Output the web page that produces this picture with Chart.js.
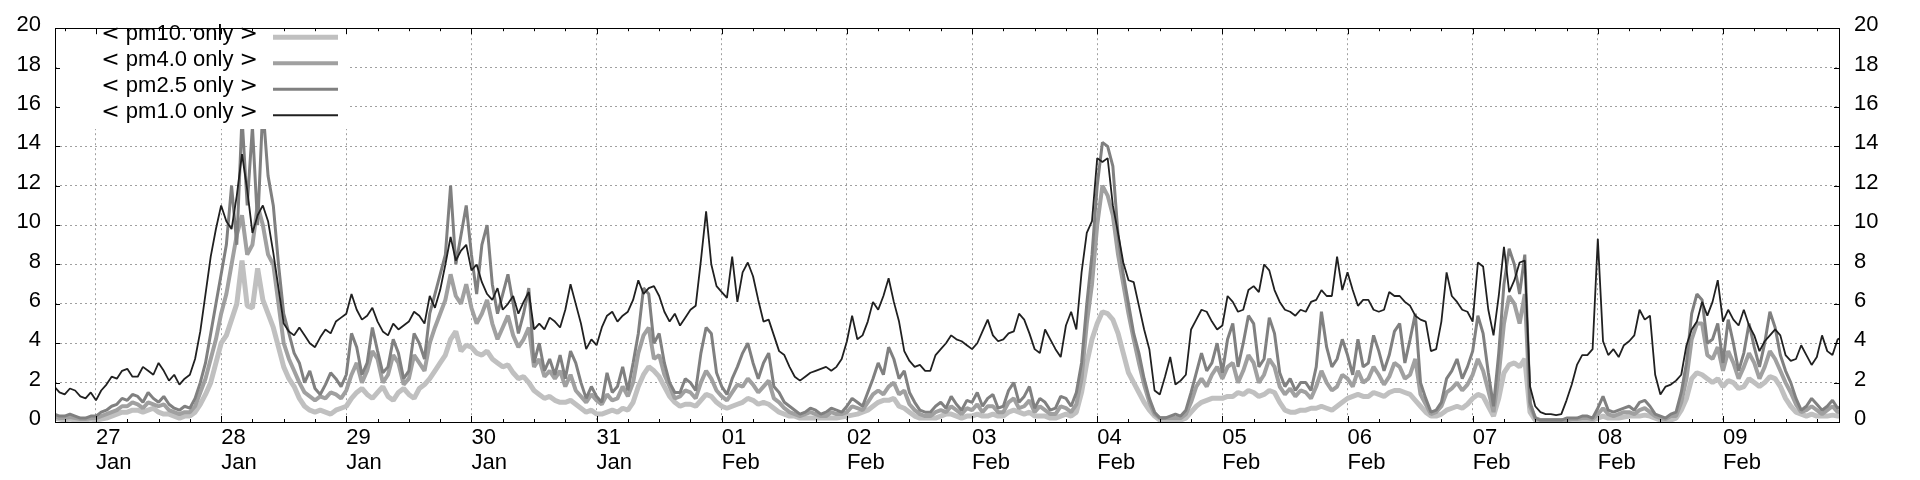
<!DOCTYPE html>
<html>
<head>
<meta charset="utf-8">
<script src="https://cdn.jsdelivr.net/npm/chart.js@4.4.1/dist/chart.umd.min.js"></script>
<style>
  html, body { margin: 0; padding: 0; background: #fff; }
  #wrap { width: 1920px; height: 480px; }
</style>
</head>
<body>
<div id="wrap"><canvas id="chart" width="1920" height="480"></canvas></div>
<script>
// hours since 27 Jan 00:00, one row per day
const hours = [
  -8, -7, -6, -5, -4, -3, -2, -1,
  0, 1, 2, 3, 4, 5, 6, 7, 8, 9, 10, 11, 12, 13, 14, 15, 16, 17, 18, 19, 20, 21, 22, 23,
  24, 25, 26, 27, 28, 29, 30, 31, 32, 33, 34, 35, 36, 37, 38, 39, 40, 41, 42, 43, 44, 45, 46, 47,
  48, 49, 50, 51, 52, 53, 54, 55, 56, 57, 58, 59, 60, 61, 62, 63, 64, 65, 66, 67, 68, 69, 70, 71,
  72, 73, 74, 75, 76, 77, 78, 79, 80, 81, 82, 83, 84, 85, 86, 87, 88, 89, 90, 91, 92, 93, 94, 95,
  96, 97, 98, 99, 100, 101, 102, 103, 104, 105, 106, 107, 108, 109, 110, 111, 112, 113, 114, 115, 116, 117, 118, 119,
  120, 121, 122, 123, 124, 125, 126, 127, 128, 129, 130, 131, 132, 133, 134, 135, 136, 137, 138, 139, 140, 141, 142, 143,
  144, 145, 146, 147, 148, 149, 150, 151, 152, 153, 154, 155, 156, 157, 158, 159, 160, 161, 162, 163, 164, 165, 166, 167,
  168, 169, 170, 171, 172, 173, 174, 175, 176, 177, 178, 179, 180, 181, 182, 183, 184, 185, 186, 187, 188, 189, 190, 191,
  192, 193, 194, 195, 196, 197, 198, 199, 200, 201, 202, 203, 204, 205, 206, 207, 208, 209, 210, 211, 212, 213, 214, 215,
  216, 217, 218, 219, 220, 221, 222, 223, 224, 225, 226, 227, 228, 229, 230, 231, 232, 233, 234, 235, 236, 237, 238, 239,
  240, 241, 242, 243, 244, 245, 246, 247, 248, 249, 250, 251, 252, 253, 254, 255, 256, 257, 258, 259, 260, 261, 262, 263,
  264, 265, 266, 267, 268, 269, 270, 271, 272, 273, 274, 275, 276, 277, 278, 279, 280, 281, 282, 283, 284, 285, 286, 287,
  288, 289, 290, 291, 292, 293, 294, 295, 296, 297, 298, 299, 300, 301, 302, 303, 304, 305, 306, 307, 308, 309, 310, 311,
  312, 313, 314, 315, 316, 317, 318, 319, 320, 321, 322, 323, 324, 325, 326, 327, 328, 329, 330, 331, 332, 333, 334, 335
];

const pm10only = [
  0.2, 0.15, 0.1, 0.15, 0.1, 0.1, 0.1, 0.15,
  0.1, 0.15, 0.2, 0.3, 0.4, 0.5, 0.5, 0.6, 0.6, 0.5, 0.6, 0.7, 0.5, 0.4, 0.4, 0.3, 0.2, 0.3, 0.3, 0.5, 0.9, 1.4, 2.0, 3.0,
  4.0, 4.4, 5.2, 6.0, 8.2, 5.9, 5.8, 7.8, 6.2, 5.5, 4.8, 3.8, 2.8, 2.2, 1.8, 1.2, 0.8, 0.6, 0.5, 0.6, 0.5, 0.4, 0.6, 0.7,
  0.8, 1.2, 1.5, 1.7, 1.4, 1.2, 1.5, 1.8, 1.3, 1.1, 1.5, 1.7, 1.4, 1.2, 1.7, 1.9, 2.2, 2.6, 3.0, 3.4, 4.2, 4.6, 3.6, 3.9,
  3.8, 3.5, 3.4, 3.6, 3.2, 3.0, 2.8, 2.9, 2.5, 2.2, 2.3, 2.0, 1.6, 1.4, 1.2, 1.3, 1.1, 1.0, 1.0, 1.1, 0.9, 0.7, 0.5, 0.6,
  0.4, 0.4, 0.5, 0.6, 0.5, 0.7, 0.6, 1.0, 1.8, 2.4, 2.8, 2.6, 2.3, 1.8, 1.3, 1.0, 0.8, 0.9, 0.9, 0.8, 1.1, 1.4, 1.3, 1.0,
  0.8, 0.7, 0.8, 0.9, 1.0, 1.2, 1.1, 0.9, 1.0, 0.9, 0.7, 0.5, 0.4, 0.3, 0.3, 0.2, 0.2, 0.2, 0.2, 0.2, 0.2, 0.2, 0.2, 0.25,
  0.3, 0.35, 0.4, 0.5, 0.6, 0.8, 1.0, 1.1, 1.1, 1.2, 0.8, 0.7, 0.5, 0.3, 0.2, 0.2, 0.2, 0.2, 0.3, 0.4, 0.4, 0.3, 0.2, 0.3,
  0.3, 0.4, 0.3, 0.3, 0.4, 0.3, 0.3, 0.5, 0.6, 0.5, 0.4, 0.5, 0.3, 0.3, 0.3, 0.2, 0.2, 0.3, 0.4, 0.3, 0.5, 1.5, 3.0, 4.2,
  5.0, 5.6, 5.5, 5.2, 4.5, 3.5, 2.5, 2.0, 1.5, 1.0, 0.6, 0.3, 0.1, 0.1, 0.1, 0.1, 0.1, 0.2, 0.5, 0.8, 1.0, 1.1, 1.2, 1.2,
  1.2, 1.3, 1.3, 1.5, 1.4, 1.6, 1.5, 1.3, 1.4, 1.6, 1.5, 1.0, 0.6, 0.5, 0.5, 0.6, 0.6, 0.7, 0.7, 0.8, 0.7, 0.6, 0.8, 1.0,
  1.2, 1.3, 1.4, 1.3, 1.3, 1.5, 1.4, 1.3, 1.5, 1.6, 1.6, 1.5, 1.4, 1.1, 0.8, 0.5, 0.3, 0.3, 0.4, 0.6, 0.7, 0.8, 0.7, 0.9,
  1.2, 1.4, 1.3, 0.8, 0.3, 1.2, 2.5, 2.9, 3.0, 2.8, 3.2, 0.5, 0.1, 0.05, 0.05, 0.05, 0.05, 0.05, 0.1, 0.1, 0.1, 0.1, 0.1, 0.1,
  0.2, 0.3, 0.2, 0.2, 0.2, 0.25, 0.3, 0.3, 0.3, 0.35, 0.3, 0.2, 0.1, 0.1, 0.1, 0.2, 0.6, 1.2, 2.2, 2.5, 2.4, 2.2, 2.0, 2.2,
  1.8, 2.1, 2.0, 1.7, 1.8, 2.2, 2.0, 1.8, 2.0, 2.3, 2.2, 1.8, 1.2, 0.8, 0.5, 0.4, 0.3, 0.4, 0.3, 0.3, 0.3, 0.35, 0.3, 0.3
];

const pm4only = [
  0.3, 0.2, 0.2, 0.25, 0.2, 0.15, 0.15, 0.2,
  0.2, 0.3, 0.4, 0.5, 0.6, 0.8, 0.8, 1.0, 0.9, 0.7, 1.0, 0.9, 0.8, 0.9, 0.6, 0.5, 0.4, 0.5, 0.5, 0.8, 1.5, 2.2, 3.2, 4.2,
  5.5, 6.5, 8.0, 9.5, 10.5, 8.5, 9.0, 11.0, 10.0, 8.5, 8.0, 6.0, 4.0, 3.2, 2.6, 2.0, 1.5, 1.3, 1.1, 1.3, 1.2, 1.5, 1.4, 1.2,
  1.6, 2.4, 3.0, 2.0, 2.6, 3.6, 3.2, 2.0, 2.4, 3.4, 3.0, 1.9, 2.2, 3.4, 3.0, 2.6, 4.0, 4.8, 5.5, 6.2, 7.5, 6.4, 6.0, 7.0,
  5.8, 5.0, 5.5, 6.2, 5.0, 4.2, 4.8, 5.4, 4.4, 3.8, 4.2, 4.8, 2.8, 3.2, 2.3, 2.6, 2.2, 2.6, 1.8, 2.4, 1.6, 1.3, 1.0, 1.4,
  1.1, 0.9, 1.4, 1.1, 1.2, 1.8, 1.3, 2.0, 3.5, 4.4, 4.8, 3.2, 3.4, 2.4, 1.8, 1.2, 1.3, 1.6, 1.5, 1.2, 2.0, 2.6, 2.2, 1.6,
  1.3, 1.1, 1.5, 1.9, 1.8, 2.2, 1.9, 1.5, 1.8, 2.1, 1.2, 1.0, 0.7, 0.5, 0.4, 0.3, 0.4, 0.5, 0.4, 0.3, 0.3, 0.5, 0.4, 0.4,
  0.5, 0.8, 0.7, 0.6, 1.0, 1.4, 1.6, 1.4, 1.8, 2.0, 1.4, 1.6, 0.9, 0.6, 0.4, 0.3, 0.3, 0.5, 0.6, 0.5, 0.8, 0.6, 0.4, 0.7,
  0.6, 0.9, 0.5, 0.8, 0.8, 0.5, 0.5, 1.0, 1.2, 0.7, 0.8, 1.1, 0.5, 0.8, 0.6, 0.4, 0.4, 0.8, 0.7, 0.5, 0.9, 2.2, 5.0, 7.0,
  10.0, 12.0, 11.5, 10.5, 8.5, 7.0, 5.5, 4.2, 3.0, 1.9, 1.0, 0.4, 0.2, 0.2, 0.2, 0.2, 0.2, 0.4, 1.0, 1.8, 2.2, 1.8, 2.4, 2.8,
  2.2, 2.8, 3.0, 2.0, 2.6, 3.4, 3.0, 2.0, 2.4, 3.2, 2.8, 1.8, 1.4, 1.7, 1.3, 1.6, 1.5, 1.2, 1.8, 2.6, 2.0, 1.6, 1.8, 2.4,
  2.2, 1.8, 2.6, 2.0, 2.2, 2.8, 2.4, 1.9, 2.3, 3.0, 2.8, 2.2, 2.4, 3.2, 1.4, 0.9, 0.4, 0.5, 0.8, 1.5, 1.7, 2.0, 1.6, 1.9,
  2.4, 3.2, 2.6, 1.6, 0.5, 2.4, 5.0, 6.4, 6.0, 5.0, 6.5, 0.8, 0.2, 0.1, 0.1, 0.1, 0.1, 0.1, 0.1, 0.15, 0.15, 0.2, 0.2, 0.15,
  0.4, 0.7, 0.4, 0.3, 0.4, 0.5, 0.5, 0.4, 0.6, 0.7, 0.5, 0.3, 0.2, 0.15, 0.3, 0.3, 1.0, 2.2, 4.2, 5.0, 5.0, 3.4, 3.2, 3.8,
  2.6, 3.6, 3.0, 2.2, 2.8, 3.5, 3.0, 2.2, 2.8, 3.6, 3.2, 2.6, 2.0, 1.5, 0.9, 0.5, 0.6, 0.8, 0.6, 0.4, 0.6, 0.8, 0.5, 0.6
];

const pm25only = [
  0.4, 0.3, 0.3, 0.4, 0.3, 0.2, 0.2, 0.3,
  0.3, 0.5, 0.6, 0.8, 0.9, 1.2, 1.1, 1.4, 1.3, 1.0, 1.5, 1.2, 1.0, 1.3, 0.9, 0.7, 0.6, 0.8, 0.7, 1.2, 2.0, 3.0, 4.5, 6.0,
  7.5, 9.0, 12.0, 9.0, 15.5, 11.0, 15.0, 10.0, 16.0, 12.5, 11.0, 8.0, 5.5, 4.5, 3.5, 3.0, 2.0, 2.6, 1.7, 1.4, 1.9, 2.5, 2.2, 1.8,
  2.4, 4.5, 3.8, 2.4, 3.0, 4.8, 3.6, 2.5, 2.8, 4.2, 3.5, 2.2, 2.6, 4.5, 4.0, 3.2, 5.5, 6.5, 7.5, 8.5, 12.0, 8.0, 9.5, 11.0,
  8.5, 6.5, 9.0, 10.0, 7.0, 5.5, 6.5, 7.5, 6.0, 4.5, 5.5, 6.8, 3.0, 4.0, 2.6, 3.2, 2.4, 3.4, 2.2, 3.6, 3.0, 2.0, 1.2, 1.8,
  1.3, 1.0, 2.5, 1.5, 1.8, 2.8, 1.6, 3.0, 4.5, 6.8, 6.5, 4.0, 4.5, 3.0, 2.0, 1.5, 1.5, 2.2, 2.0, 1.6, 3.5, 4.8, 4.5, 2.5,
  1.8, 1.4, 2.2, 2.8, 3.5, 4.0, 3.0, 2.2, 3.0, 3.5, 1.8, 1.5, 1.0, 0.8, 0.6, 0.4, 0.5, 0.7, 0.6, 0.4, 0.5, 0.7, 0.6, 0.5,
  0.8, 1.2, 1.0, 0.8, 1.5, 2.2, 3.0, 2.4, 3.8, 3.2, 2.2, 2.6, 1.5, 1.0, 0.6, 0.5, 0.5, 0.8, 1.0, 0.7, 1.3, 0.9, 0.6, 1.1,
  1.0, 1.5, 0.8, 1.2, 1.4, 0.7, 0.8, 1.6, 2.0, 1.0, 1.3, 1.8, 0.7, 1.2, 1.0, 0.6, 0.7, 1.3, 1.2, 0.8, 1.5, 3.0, 6.0, 8.5,
  12.0, 14.2, 14.0, 13.0, 9.5, 7.5, 6.0, 4.5, 3.5, 2.2, 1.2, 0.5, 0.2, 0.2, 0.3, 0.4, 0.3, 0.6, 1.5, 2.5, 3.5, 2.6, 3.0, 4.0,
  2.5, 4.2, 5.0, 2.8, 4.0, 5.4, 5.0, 2.8, 3.2, 5.3, 4.5, 2.5, 1.8, 2.2, 1.6, 2.0, 2.0, 1.6, 2.8, 5.6, 3.8, 2.8, 3.2, 4.2,
  3.4, 2.4, 4.2, 2.8, 3.0, 4.4, 3.6, 2.6, 3.4, 4.6, 5.0, 3.0, 4.2, 5.5, 2.0, 1.2, 0.5, 0.6, 1.0, 2.2, 2.6, 3.2, 2.2, 2.8,
  3.6, 5.4, 4.5, 2.5, 0.8, 3.5, 7.0, 8.8, 8.0, 6.5, 8.5, 1.0, 0.2, 0.1, 0.1, 0.1, 0.1, 0.1, 0.2, 0.2, 0.2, 0.3, 0.3, 0.2,
  0.7, 1.3, 0.6, 0.5, 0.6, 0.7, 0.8, 0.6, 1.0, 1.1, 0.8, 0.4, 0.3, 0.2, 0.4, 0.5, 1.5, 3.0, 5.5, 6.5, 6.2, 4.0, 4.2, 5.0,
  3.0, 5.2, 4.0, 2.6, 3.5, 5.0, 3.8, 2.8, 4.0, 5.6, 4.8, 3.4, 2.6, 2.0, 1.2, 0.6, 0.8, 1.2, 0.9, 0.6, 0.8, 1.1, 0.7, 0.8
];

const pm1only = [
  1.8, 1.5, 1.4, 1.7, 1.6, 1.3, 1.2, 1.5,
  1.1, 1.6, 1.9, 2.3, 2.2, 2.6, 2.7, 2.3, 2.3, 2.8, 2.6, 2.4, 3.0, 2.6, 2.1, 2.4, 1.9, 2.2, 2.4, 3.2, 4.6, 6.5, 8.4, 9.8,
  11.0, 10.2, 9.8, 11.5, 13.6, 11.8, 9.6, 10.5, 11.0, 10.2, 8.6, 6.8, 5.0, 4.6, 4.4, 4.8, 4.4, 4.0, 3.8, 4.3, 4.7, 4.5, 5.1, 5.3,
  5.5, 6.5, 5.7, 5.2, 5.4, 5.8, 5.1, 4.6, 4.4, 5.0, 4.7, 4.9, 5.1, 5.6, 5.4, 5.0, 6.4, 5.8, 6.7, 8.0, 9.4, 8.2, 8.7, 9.0,
  7.7, 8.0, 7.1, 6.5, 6.2, 6.8, 5.7, 6.0, 6.4, 5.5, 6.1, 6.6, 4.7, 5.0, 4.7, 5.3, 5.1, 4.8, 5.7, 7.0, 6.0, 5.0, 3.7, 4.2,
  3.9, 4.8, 5.4, 5.6, 5.1, 5.4, 5.6, 6.2, 7.2, 6.5, 6.8, 6.9, 6.4, 5.6, 5.1, 5.5, 4.9, 5.3, 5.7, 5.9, 8.2, 10.7, 8.0, 6.9,
  6.6, 6.3, 8.4, 6.1, 7.6, 8.1, 7.4, 6.2, 5.1, 5.2, 4.4, 3.6, 3.4, 2.8, 2.3, 2.1, 2.3, 2.5, 2.6, 2.7, 2.8, 2.6, 2.8, 3.2,
  4.1, 5.4, 4.2, 4.4, 5.1, 6.1, 5.7, 6.4, 7.3, 6.1, 5.1, 3.6, 3.1, 2.8, 2.9, 2.6, 2.6, 3.4, 3.7, 4.0, 4.4, 4.2, 4.1, 3.9,
  3.7, 4.0, 4.6, 5.2, 4.4, 4.1, 4.2, 4.5, 4.6, 5.5, 5.2, 4.5, 3.7, 3.5, 4.7, 4.2, 3.7, 3.3, 4.9, 5.6, 4.7, 7.6, 9.6, 10.2,
  13.4, 13.2, 13.4, 11.0, 9.6, 8.1, 7.2, 7.1, 5.9, 4.7, 3.7, 1.6, 1.4, 2.3, 3.3, 1.9, 2.1, 2.4, 4.7, 5.2, 5.7, 5.6, 5.1, 4.7,
  4.9, 6.4, 6.1, 5.6, 5.7, 6.7, 6.9, 6.6, 8.0, 7.7, 6.7, 6.1, 5.7, 5.6, 5.4, 5.7, 5.6, 6.1, 6.2, 6.7, 6.4, 6.4, 8.4, 6.7,
  7.6, 6.7, 5.9, 6.2, 6.2, 5.7, 5.6, 5.7, 6.6, 6.4, 6.4, 6.1, 5.9, 5.4, 5.2, 5.1, 3.6, 3.7, 5.1, 7.6, 6.4, 6.1, 5.7, 5.6,
  5.1, 8.1, 7.9, 5.7, 4.4, 6.4, 8.9, 6.6, 7.2, 8.1, 8.2, 1.8, 0.8, 0.5, 0.4, 0.4, 0.35, 0.4, 1.1, 1.9, 2.9, 3.4, 3.4, 3.7,
  9.3, 4.1, 3.4, 3.7, 3.3, 3.9, 4.1, 4.4, 5.7, 5.2, 5.4, 2.4, 1.4, 1.8, 1.9, 2.1, 2.4, 3.9, 4.7, 5.1, 6.1, 5.4, 6.1, 7.2,
  5.1, 5.7, 5.2, 4.9, 5.7, 4.9, 4.4, 3.6, 4.1, 4.4, 4.7, 4.4, 3.4, 3.1, 3.2, 3.9, 3.4, 2.9, 3.3, 4.4, 3.6, 3.4, 4.2, 4.3
];

const dayHours = [0, 24, 48, 72, 96, 120, 144, 168, 192, 216, 240, 264, 288, 312];
const dayLabels = [
  ['27', 'Jan'], ['28', 'Jan'], ['29', 'Jan'], ['30', 'Jan'], ['31', 'Jan'],
  ['01', 'Feb'], ['02', 'Feb'], ['03', 'Feb'], ['04', 'Feb'], ['05', 'Feb'],
  ['06', 'Feb'], ['07', 'Feb'], ['08', 'Feb'], ['09', 'Feb']
];
const seriesNames = ['pm10.', 'pm4.0', 'pm2.5', 'pm1.0'];
const seriesColors = ['#c0c0c0', '#a0a0a0', '#808080', '#202020'];
const seriesWidths = [5, 4, 3, 1.8];

const FONT = 'Liberation Sans';
const toPoints = (vals) => vals.map((v, i) => ({ x: hours[i], y: v }));

// gnuplot key: "< name only >" where the angle brackets come from DejaVu
function drawKeyText(ctx, name, right, base) {
  const parts = [
    ['<', '22px "DejaVu Sans"'],
    [' ' + name + ' only ', '22px "' + FONT + '"'],
    ['>', '22px "DejaVu Sans"']
  ];
  let total = 0;
  parts.forEach(p => { ctx.font = p[1]; total += ctx.measureText(p[0]).width; });
  let x = right - total;
  ctx.textAlign = 'left';
  parts.forEach(p => {
    ctx.font = p[1];
    ctx.fillText(p[0], x, base);
    x += ctx.measureText(p[0]).width;
  });
}

const frame = {
  id: 'frame',
  afterDatasetsDraw(chart) {
    const ctx = chart.ctx;
    ctx.save();
    ctx.fillStyle = '#fff';
    ctx.fillRect(60, 21, 290, 108);
    ctx.textBaseline = 'alphabetic';
    seriesNames.forEach((name, i) => {
      const base = 40 + i * 26;
      ctx.fillStyle = '#000';
      drawKeyText(ctx, name, 258, base);
      ctx.strokeStyle = seriesColors[i];
      ctx.lineWidth = seriesWidths[i] + (i === 3 ? 0.2 : 0);
      ctx.beginPath();
      ctx.moveTo(273, base - 2.7);
      ctx.lineTo(338, base - 2.7);
      ctx.stroke();
    });
    ctx.restore();
  },
  afterDraw(chart) {
    const { ctx, chartArea: a, scales } = chart;
    const xs = scales.x, ys = scales.y;
    ctx.save();
    ctx.strokeStyle = '#000';
    ctx.lineWidth = 1;
    ctx.beginPath();
    // inward ticks, minor every 6 hours
    for (let h = Math.ceil(xs.min / 6) * 6; h <= xs.max; h += 6) {
      const px = Math.round(xs.getPixelForValue(h)) + 0.5;
      const len = dayHours.includes(h) ? 6 : 3;
      ctx.moveTo(px, a.bottom); ctx.lineTo(px, a.bottom - len);
      ctx.moveTo(px, a.top); ctx.lineTo(px, a.top + len);
    }
    for (let v = 0; v <= 20; v += 2) {
      const py = Math.round(ys.getPixelForValue(v)) + 0.5;
      ctx.moveTo(a.left, py); ctx.lineTo(a.left + 5, py);
      ctx.moveTo(a.right, py); ctx.lineTo(a.right - 5, py);
    }
    ctx.stroke();
    ctx.strokeRect(Math.round(a.left) + 0.5, Math.round(a.top) + 0.5,
      Math.round(a.right - a.left), Math.round(a.bottom - a.top));
    ctx.restore();
  }
};

const yTickOpts = {
  stepSize: 2,
  color: '#000',
  font: { family: FONT, size: 22 },
  labelOffset: -3
};

new Chart(document.getElementById('chart'), {
  type: 'line',
  data: {
    datasets: [pm10only, pm4only, pm25only, pm1only].map((vals, i) => ({
      label: seriesNames[i],
      data: toPoints(vals),
      borderColor: seriesColors[i],
      borderWidth: seriesWidths[i],
      borderJoinStyle: 'bevel',
      pointRadius: 0,
      tension: 0,
      fill: false,
      order: 4 - i
    }))
  },
  options: {
    responsive: false,
    animation: false,
    devicePixelRatio: 1,
    layout: { padding: { top: 20, left: 0, right: 0, bottom: 0 } },
    plugins: { legend: { display: false }, tooltip: { enabled: false } },
    scales: {
      x: {
        type: 'linear',
        min: -7.86,
        max: 334.25,
        afterBuildTicks: (s) => { s.ticks = dayHours.map(v => ({ value: v })); },
        afterFit: (s) => { s.height = 58; },
        grid: { color: '#a0a0a0', lineWidth: 1, drawTicks: false },
        border: { display: false, dash: [2, 3] },
        ticks: {
          align: 'start',
          padding: 4,
          autoSkip: false,
          maxRotation: 0,
          color: '#000',
          font: { family: FONT, size: 22, lineHeight: 1.13 },
          callback: (v, i) => dayLabels[i]
        }
      },
      y: {
        position: 'left',
        min: 0,
        max: 20,
        afterFit: (s) => { s.width = 55; },
        grid: { color: '#a0a0a0', lineWidth: 1, drawTicks: false },
        border: { display: false, dash: [2, 3] },
        ticks: Object.assign({ padding: 14 }, yTickOpts)
      },
      y2: {
        position: 'right',
        min: 0,
        max: 20,
        afterFit: (s) => { s.width = 81; },
        grid: { display: false, drawTicks: false },
        border: { display: false },
        ticks: Object.assign({ padding: 15 }, yTickOpts)
      }
    }
  },
  plugins: [frame]
});
</script>
</body>
</html>
